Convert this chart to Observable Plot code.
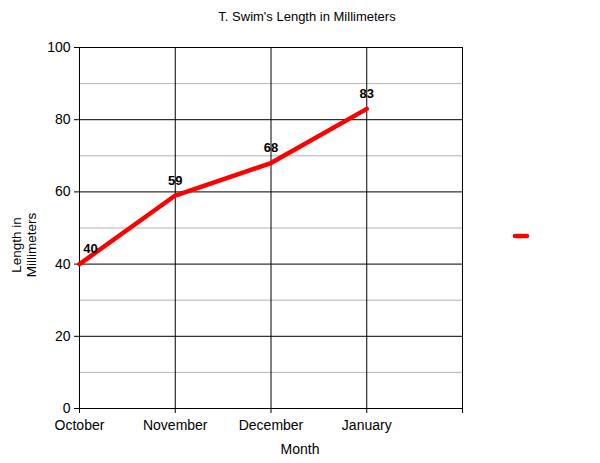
<!DOCTYPE html>
<html>
<head>
<meta charset="utf-8">
<script src="https://cdn.jsdelivr.net/npm/d3@7"></script>
<script src="https://cdn.jsdelivr.net/npm/@observablehq/plot@0.6"></script>
<style>
  html, body { margin: 0; padding: 0; background: #fff; }
  svg { display: block; }
</style>
</head>
<body>
<div id="chart"></div>
<script>
const title = "T. Swim's Length in Millimeters";
const xLabel = "Month";
const yLabelLines = ["Length in", "Millimeters"];
const months = ["October", "November", "December", "January"];
const lengths = [40, 59, 68, 83];
const yMajorTicks = [0, 20, 40, 60, 80, 100];
const yMinorTicks = [10, 30, 50, 70, 90];

const data = months.map((m, i) => ({month: m, length: lengths[i]}));
const xDomain = [...months, " "];

const font = "Liberation Sans, Arial, Helvetica, sans-serif";

const chart = Plot.plot({
  width: 600,
  height: 463,
  marginTop: 47,
  marginLeft: 79,
  marginRight: 138,
  marginBottom: 55,
  style: {fontFamily: font, fontSize: "14px", color: "#000", background: "#fff"},
  x: {type: "point", domain: xDomain, padding: 0, round: false},
  y: {domain: [0, 100]},
  marks: [
    Plot.ruleY(yMinorTicks, {stroke: "#b3b3b3", strokeWidth: 1}),
    Plot.ruleY(yMajorTicks, {stroke: "#000", strokeWidth: 1}),
    Plot.ruleX(xDomain, {x: d => d, stroke: "#000", strokeWidth: 1}),
    Plot.axisY({ticks: yMajorTicks, tickSize: 5, tickPadding: 4, label: null, fill: "#000", stroke: "#000", fontSize: 14}),
    Plot.axisX({ticks: xDomain, tickSize: 5, tickPadding: 7, label: null, fill: "#000", stroke: "#000", fontSize: 14}),
    Plot.line(data, {x: "month", y: "length", stroke: "#ff0000", strokeWidth: 4.5, strokeLinejoin: "round"}),
    Plot.text(data.slice(0, 1), {x: "month", y: "length", text: d => String(d.length), dy: -15, dx: 11, fontWeight: "bold", fontSize: 13, fill: "#000"}),
    Plot.text(data.slice(1), {x: "month", y: "length", text: d => String(d.length), dy: -15, fontWeight: "bold", fontSize: 13, fill: "#000"})
  ]
});

const svg = d3.select(chart);
svg.append("text")
  .attr("x", 307).attr("y", 18).attr("text-anchor", "middle").attr("dominant-baseline", "middle")
  .attr("font-family", font).attr("font-size", 13).attr("fill", "#000")
  .text(title);
svg.append("text")
  .attr("x", 300).attr("y", 450).attr("text-anchor", "middle").attr("dominant-baseline", "middle")
  .attr("font-family", font).attr("font-size", 14).attr("fill", "#000")
  .text(xLabel);
const yl = svg.append("text")
  .attr("transform", "translate(24,245) rotate(-90)")
  .attr("text-anchor", "middle")
  .attr("font-family", font).attr("font-size", 13.5).attr("fill", "#000");
yLabelLines.forEach((t, i) => {
  yl.append("tspan").attr("x", 0).attr("y", i === 0 ? -3 : 12).text(t);
});
svg.append("line")
  .attr("x1", 515).attr("x2", 527).attr("y1", 236).attr("y2", 236)
  .attr("stroke", "#ff0000").attr("stroke-width", 4.5).attr("stroke-linecap", "round");

document.getElementById("chart").appendChild(chart);
</script>
</body>
</html>
